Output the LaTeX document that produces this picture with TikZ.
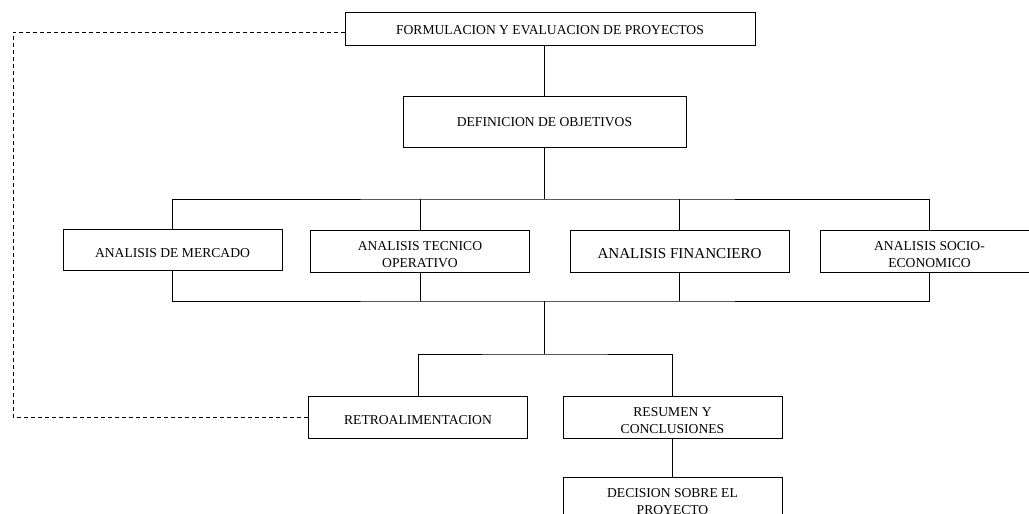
\documentclass[tikz,border=0pt]{standalone}
\usepackage{fontspec}
\setmainfont{Liberation Serif}
\usepackage{tikz}
\usetikzlibrary{calc}
\newcommand{\lowstrut}{\rule{0pt}{16pt}}

\begin{document}
\begin{tikzpicture}[x=1pt,y=-1pt,line width=1pt,
                    every node/.style={inner sep=1pt},
                    box/.style={draw,minimum width=219pt,minimum height=42pt,
                                align=center,font=\fontsize{13.6}{17.5}\selectfont},
                    feedback/.style={dash pattern=on 4pt off 3pt}]
  \useasboundingbox (0,0) rectangle (1029,514);
  \clip (0,0) rectangle (1029,514);
  % upper part
  \node[box,minimum width=410pt,minimum height=33pt] (form) at (550,28.5)
      {\rule{0pt}{12pt}FORMULACION Y EVALUACION DE PROYECTOS};
  \node[box,minimum width=283pt,minimum height=51pt] (defin) at (544.5,121.5)
      {\rule{0pt}{11pt}DEFINICION DE OBJETIVOS};
  \draw (defin.north) -- (defin.north |- form.south);
  % the four analyses
  \node[box,minimum height=41pt] (merc) at (172.5,249.5) {\lowstrut ANALISIS DE MERCADO};
  \node[box] (tec) at (420,251) {\lowstrut ANALISIS TECNICO\\ OPERATIVO};
  \node[box,font=\fontsize{15.1}{18}\selectfont] (fin) at (679.5,251) {\lowstrut ANALISIS FINANCIERO};
  \node[box] (socio) at (929.5,251) {\lowstrut ANALISIS SOCIO-\\ ECONOMICO};
  \coordinate (topbus) at (544.5,199);
  \draw (defin.south) -- (topbus);
  \draw (merc.north) |- (topbus) -| (socio.north);
  \draw (tec.north) -- (tec.north |- topbus);
  \draw (fin.north) -- (fin.north |- topbus);
  \coordinate (botbus) at (544.5,301);
  \draw (merc.south) |- (botbus) -| (socio.south);
  \draw (tec.south) -- (tec.south |- botbus);
  \draw (fin.south) -- (fin.south |- botbus);
  % lower part
  \node[box] (retro) at (418,417) {\lowstrut RETROALIMENTACION};
  \node[box] (resum) at (672.5,417) {\lowstrut RESUMEN Y\\ CONCLUSIONES};
  \node[box] (decis) at (672.5,498) {\lowstrut DECISION SOBRE EL\\ PROYECTO};
  \coordinate (split) at (544.5,354);
  \draw (botbus) -- (split);
  \draw (retro.north) |- (split) -| (resum.north);
  \draw (resum.south) -- (decis.north);
  % feedback loop
  \coordinate (fbcorner) at (13,417);
  \draw[feedback] (retro.west) -- (fbcorner) |- ([yshift=-3.5pt]form.west);
\end{tikzpicture}
\end{document}
